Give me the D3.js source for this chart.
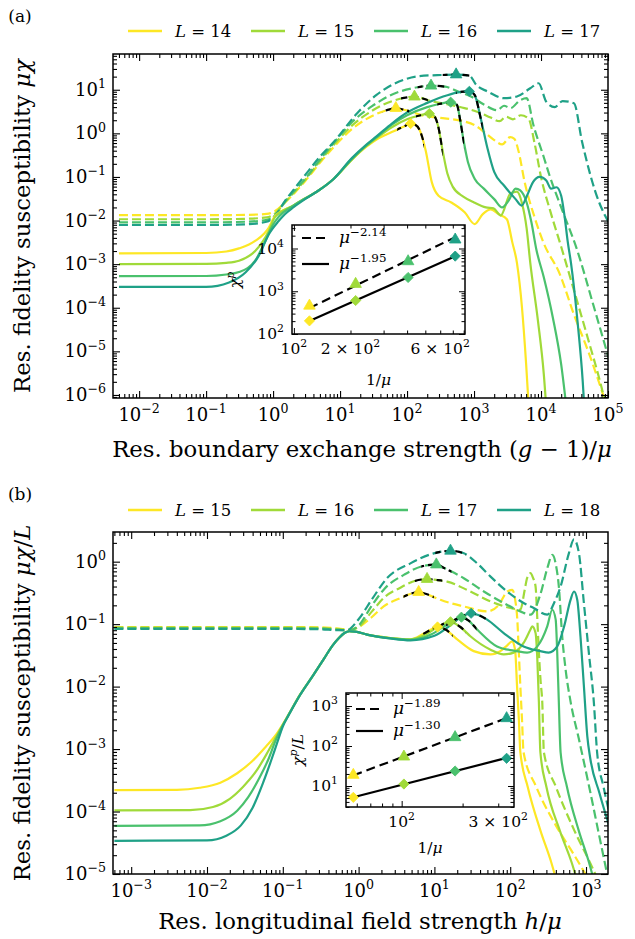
<!DOCTYPE html>
<html><head><meta charset="utf-8">
<script src="https://cdn.jsdelivr.net/npm/d3@7"></script>
<style>
body{margin:0;background:#fff;}
svg text{font-family:"DejaVu Serif","Liberation Serif",serif;fill:#000;}
</style></head>
<body><svg id="fig" width="635" height="939"></svg>
<script>
// ---------- shared ----------
const colorsL = ["#fde725", "#a0da39", "#4ac16d", "#1fa187"];
const legendA = ["14", "15", "16", "17"];
const legendB = ["15", "16", "17", "18"];

// ---------- panel (a): boundary exchange, [x, mu*chi] ----------
const exchDash14 = [[0.005,0.0133],[0.1,0.0133],[0.4,0.0135],[0.8,0.0142],[1.1,0.017],[1.5,0.026],[2,0.04],[3,0.08],[5,0.21],[8,0.48],[15,1.25],[30,2.5],[50,3.4],[68,3.78],[95,3.4],[186,2.5],[365,2.2],[700,1.9],[1020,1.55],[1500,1.0],[1960,0.72],[2630,0.56],[3470,0.82],[4000,0.75],[4600,0.4],[5700,0.076],[8000,0.012],[11000,3e-3],[19000,6e-4],[31000,7e-5],[52000,9e-6],[89000,8e-7],[1.2e5,2e-7]];
const exchDash15 = [[0.005,0.0107],[0.1,0.0107],[0.4,0.011],[0.8,0.0118],[1.1,0.015],[1.5,0.026],[2,0.042],[3,0.085],[5,0.23],[8,0.54],[15,1.5],[30,3.3],[60,5.5],[100,6.7],[129,6.92],[235,5.4],[415,4.6],[720,3.8],[1140,3.1],[1770,2.3],[2400,1.9],[3000,2.4],[3800,2.1],[5000,2.6],[6500,2.2],[8000,0.6],[10000,0.1],[14000,0.015],[20000,2.5e-3],[30000,3e-4],[50000,2e-5],[80000,1.5e-6],[1.2e5,1e-7]];
const exchDash16 = [[0.005,0.0091],[0.1,0.0091],[0.4,0.0094],[0.8,0.0104],[1.1,0.0135],[1.5,0.027],[2,0.045],[3,0.09],[5,0.25],[8,0.6],[15,1.8],[30,4.2],[60,7.8],[120,10.8],[228,12.35],[370,11.8],[580,9.1],[900,7.0],[1430,4.5],[2220,3.4],[2800,4.3],[3500,3.8],[4900,5.8],[6100,6.4],[7700,1.55],[10800,0.31],[13400,0.108],[20000,0.02],[35000,2e-3],[60000,1.2e-4],[1.2e5,3e-6]];
const exchDash17 = [[0.005,0.0079],[0.1,0.0079],[0.4,0.0082],[0.8,0.0094],[1.1,0.0135],[1.5,0.028],[1.9,0.045],[3,0.11],[5,0.29],[8.1,0.64],[18,2.9],[35,7.6],[76,15.4],[150,20.5],[330,21.8],[540,22.3],[855,21],[1080,12.9],[1600,9.1],[2800,6.4],[4370,7.0],[6900,10.8],[9200,14.1],[12000,5.3],[16000,4.0],[21000,5.5],[31000,4.9],[41000,0.64],[65000,0.045],[1.2e5,0.006]];
const exchSolid14 = [[0.005,1.77e-3],[0.1,1.8e-3],[0.2,1.95e-3],[0.31,2.3e-3],[0.54,3.4e-3],[0.86,6.8e-3],[1.06,0.0125],[2,0.022],[3,0.032],[4.6,0.047],[8,0.09],[15,0.25],[25,0.5],[35,0.72],[50,0.95],[70,1.2],[95,1.5],[113,1.68],[130,1.6],[155,1.17],[190,0.4],[234,0.076],[295,0.037],[458,0.026],[724,0.0155],[1020,0.0083],[1350,0.014],[1780,0.018],[2340,0.014],[3090,0.0107],[3720,3.2e-3],[4370,1.07e-3],[5200,1e-4],[6000,5e-6],[6700,3e-7]];
const exchSolid15 = [[0.005,1.0e-3],[0.1,1.01e-3],[0.2,1.07e-3],[0.31,1.2e-3],[0.54,2.0e-3],[0.86,5.7e-3],[1.06,0.0118],[2,0.022],[3,0.032],[4.6,0.047],[8,0.09],[15,0.25],[25,0.52],[35,0.78],[60,1.4],[100,2.1],[160,2.6],[215,2.85],[250,2.6],[290,1.5],[340,0.4],[400,0.12],[480,0.06],[700,0.035],[1000,0.026],[1500,0.02],[1960,0.019],[2500,0.013],[3500,0.042],[4370,0.046],[5200,0.025],[6100,6.6e-3],[6900,1.1e-3],[9000,5e-5],[11000,3e-6],[12500,2e-7]];
const exchSolid16 = [[0.005,5.3e-4],[0.1,5.35e-4],[0.2,5.8e-4],[0.31,6.6e-4],[0.54,1.2e-3],[0.76,3.3e-3],[1.0,8.1e-3],[1.2,0.012],[2,0.022],[3,0.032],[4.6,0.047],[8,0.09],[15,0.26],[25,0.54],[35,0.82],[60,1.6],[100,2.6],[200,4.0],[300,4.7],[448,5.19],[555,4.5],[615,2.2],[690,0.76],[810,0.22],[1020,0.091],[1400,0.054],[2000,0.031],[2630,0.02],[3300,0.029],[4170,0.054],[4900,0.049],[6100,0.026],[7200,9e-3],[8500,2.2e-3],[11000,5e-4],[15000,6e-5],[20000,5e-6],[24000,5e-7]];
const exchSolid17 = [[0.005,3.0e-4],[0.1,3.0e-4],[0.22,3.8e-4],[0.39,6.5e-4],[0.61,1.55e-3],[0.86,4.8e-3],[1.2,9.6e-3],[1.5,0.014],[2,0.02],[3,0.031],[4.6,0.047],[8,0.09],[15,0.27],[25,0.56],[35,0.85],[60,1.7],[100,3.0],[200,5.0],[400,7.5],[600,8.8],[851,9.21],[1020,7.6],[1260,2.2],[1590,0.45],[2000,0.13],[2820,0.063],[4170,0.031],[5130,0.022],[6170,0.037],[7590,0.076],[9550,0.1],[12000,0.083],[14100,0.054],[17000,0.058],[20000,0.037],[22400,0.013],[25100,3.2e-3],[28000,1.07e-3],[35000,5e-5],[42000,2e-6],[46000,2e-7]];
// positions of the maxima along x
const exchTriX = [68, 129, 228, 540];
const exchDiaX = [113, 215, 448, 851];
// inset (a): peak heights vs 1/mu
const exchInvMu = [121, 213, 405, 721];
const exchTriChi = [457, 1475, 5000, 16100];
const exchDiaChi = [203, 607, 2100, 6640];
const exchExponents = [2.14, 1.95];

// ---------- panel (b): longitudinal field, [x, mu*chi/L] ----------
const fieldDash15 = [[6e-4,0.09],[0.05,0.09],[0.3,0.089],[0.55,0.085],[0.75,0.082],[1.0,0.09],[1.5,0.13],[2.14,0.192],[3.55,0.261],[5,0.31],[6.2,0.326],[8,0.3],[9.8,0.271],[12,0.245],[24.4,0.192],[49.7,0.16],[70,0.2],[91,0.33],[106,0.354],[116,0.25],[124,0.118],[130,0.035],[136,0.0102],[143,3e-3],[150,8.9e-4],[220,2.5e-4],[400,6e-5],[700,2e-5],[1100,8e-6],[1400,5e-6]];
const fieldDash16 = [[6e-4,0.088],[0.05,0.088],[0.3,0.087],[0.55,0.083],[0.75,0.08],[1.0,0.09],[1.5,0.16],[2.2,0.27],[3.5,0.38],[5.5,0.49],[8.0,0.526],[10.5,0.51],[14.7,0.48],[29.8,0.333],[55,0.231],[101,0.181],[136,0.17],[155,0.35],[167,0.544],[185,0.654],[200,0.55],[216,0.40],[228,0.118],[239,0.0347],[252,0.012],[265,5.5e-3],[278,8.9e-4],[400,2.5e-4],[700,5e-5],[1200,1.3e-5],[1700,5e-6]];
const fieldDash17 = [[6e-4,0.086],[0.05,0.086],[0.3,0.085],[0.55,0.081],[0.75,0.079],[1.0,0.095],[1.5,0.2],[2.2,0.37],[4,0.62],[7,0.85],[10.6,0.899],[13.2,0.8],[24.4,0.544],[44.9,0.333],[82,0.218],[136,0.16],[185,0.142],[250,0.3],[310,0.8],[359,1.28],[400,0.9],[438,0.40],[485,0.064],[538,0.0188],[628,5.6e-3],[800,1.5e-3],[1100,2.5e-4],[1500,4e-5],[1900,1e-5]];
const fieldDash18 = [[6e-4,0.084],[0.05,0.084],[0.3,0.083],[0.55,0.08],[0.7,0.08],[1.0,0.12],[1.5,0.25],[2.37,0.544],[4.82,0.94],[9.8,1.36],[16.3,1.49],[24.5,1.36],[36.7,0.94],[55,0.577],[91,0.333],[150,0.218],[204,0.181],[308,0.142],[380,0.22],[462,0.40],[594,1.36],[694,2.27],[807,1.36],[937,0.218],[1090,0.0347],[1270,5.5e-3],[1400,8.9e-4],[1700,2.5e-4],[2100,8e-5]];
const fieldSolid15 = [[6e-4,2.2e-4],[4e-3,2.22e-4],[0.008,2.4e-4],[0.015,2.9e-4],[0.025,4.1e-4],[0.04,6.5e-4],[0.06,1.1e-3],[0.08,1.65e-3],[0.1,2.5e-3],[0.12,3.6e-3],[0.17,7.5e-3],[0.25,0.015],[0.35,0.028],[0.45,0.045],[0.55,0.06],[0.65,0.072],[0.75,0.077],[0.9,0.076],[1.29,0.068],[2.62,0.06],[4.82,0.057],[7.5,0.072],[11,0.09],[14,0.082],[20,0.057],[33,0.037],[55,0.0327],[74,0.037],[90,0.045],[106,0.053],[113,0.045],[117,0.035],[123,0.0103],[130,3e-3],[136,8.9e-4],[170,2.5e-4],[250,5e-5],[350,1.5e-5],[450,5e-6]];
const fieldSolid16 = [[6e-4,1.04e-4],[6e-3,1.05e-4],[0.012,1.18e-4],[0.02,1.6e-4],[0.03,2.5e-4],[0.045,4.5e-4],[0.06,8e-4],[0.08,1.5e-3],[0.1,2.45e-3],[0.12,3.6e-3],[0.17,7.5e-3],[0.25,0.015],[0.35,0.028],[0.45,0.045],[0.55,0.06],[0.65,0.072],[0.75,0.077],[0.9,0.076],[1.29,0.068],[2.62,0.06],[4.82,0.057],[8,0.07],[11,0.09],[16.3,0.109],[22,0.09],[29.8,0.064],[55,0.039],[82,0.0327],[111,0.035],[150,0.05],[185,0.082],[195,0.092],[216,0.072],[228,0.027],[239,5.6e-3],[250,8.9e-4],[300,2.5e-4],[450,5e-5],[650,1.5e-5],[850,5e-6]];
const fieldSolid17 = [[6e-4,5.9e-5],[8e-3,6e-5],[0.015,7e-5],[0.025,1.03e-4],[0.035,1.7e-4],[0.05,3.6e-4],[0.065,7e-4],[0.08,1.35e-3],[0.1,2.4e-3],[0.12,3.6e-3],[0.17,7.5e-3],[0.25,0.015],[0.35,0.028],[0.45,0.045],[0.55,0.06],[0.65,0.072],[0.75,0.077],[0.9,0.076],[1.29,0.068],[2.62,0.059],[4.82,0.056],[9,0.068],[14,0.095],[18,0.115],[22.7,0.129],[28,0.115],[36.7,0.082],[67,0.044],[123,0.037],[167,0.035],[228,0.044],[308,0.092],[359,0.17],[398,0.118],[417,0.035],[438,5.6e-3],[462,8.9e-4],[560,2.5e-4],[800,5e-5],[1100,1.5e-5],[1400,5e-6]];
const fieldSolid18 = [[6e-4,3.4e-5],[0.01,3.45e-5],[0.018,4.1e-5],[0.028,6e-5],[0.04,1.15e-4],[0.055,2.9e-4],[0.07,6.5e-4],[0.085,1.3e-3],[0.1,2.3e-3],[0.12,3.5e-3],[0.17,7.4e-3],[0.25,0.015],[0.35,0.028],[0.45,0.045],[0.55,0.06],[0.65,0.072],[0.75,0.077],[0.9,0.076],[1.29,0.068],[2.62,0.059],[4.82,0.055],[10,0.065],[16,0.095],[22,0.128],[30.5,0.149],[38,0.14],[49.6,0.118],[82,0.072],[150,0.044],[250,0.037],[322,0.035],[417,0.044],[514,0.092],[625,0.245],[694,0.333],[766,0.245],[845,0.064],[937,0.0103],[1040,1.6e-3],[1140,7e-4],[1500,2e-4],[2100,5e-5]];
const fieldTriX = [6.2, 8.0, 10.6, 16.3];
const fieldDiaX = [11, 16.3, 22.7, 30.5];
// inset (b): peak heights / L vs 1/mu
const fieldInvMu = [57.7, 102.6, 183.6, 330];
const fieldTriChi = [18.8, 54, 165, 492];
const fieldDiaChi = [5.2, 11.2, 23.7, 49.3];
const fieldExponents = [1.89, 1.30];

// ---------- helpers ----------
const svg = d3.select("#fig");
svg.append("rect").attr("width", 635).attr("height", 939).attr("fill", "#fff");

function rich(sel, parts, fs) {
  let up = false;
  parts.forEach(p => {
    const ts = sel.append("tspan").text(p.t);
    if (p.i) ts.attr("font-style", "italic");
    if (p.sup) {
      ts.attr("font-size", 0.7 * fs);
      if (!up) ts.attr("dy", -0.42 * fs);
    } else if (up) ts.attr("dy", 0.42 * fs);
    up = !!p.sup;
  });
  return sel;
}
const pow10 = v => { const e = Math.round(Math.log10(v)); return [{t: "10"}, {t: e < 0 ? "\u2212" + (-e) : String(e), sup: true}]; };
const timesPow = (k, e) => [{t: k + " \u00d7 10"}, {t: String(e), sup: true}];

function logTicks(domain) {
  const lo = Math.min(...domain), hi = Math.max(...domain);
  const maj = [], min = [];
  for (let e = Math.floor(Math.log10(lo)); e <= Math.ceil(Math.log10(hi)); e++) {
    for (let k = 1; k <= 9; k++) {
      const v = +(k * Math.pow(10, e)).toPrecision(10);
      if (v >= lo * 0.9999 && v <= hi * 1.0001) (k === 1 ? maj : min).push(v);
    }
  }
  return {maj, min};
}

function frame(g, sx, sy, o) {
  const [xa, xb] = sx.range(), [ya, yb] = sy.range();
  const xt = logTicks(sx.domain()), yt = logTicks(sy.domain());
  const sides = [
    [d3.axisBottom, sx, xt, `translate(0,${ya})`],
    [d3.axisTop, sx, xt, `translate(0,${yb})`],
    [d3.axisLeft, sy, yt, `translate(${xa},0)`],
    [d3.axisRight, sy, yt, `translate(${xb},0)`]
  ];
  sides.forEach(([axis, s, t, tr]) => {
    [[t.maj, o.maj], [t.min, o.min]].forEach(([vals, len]) => {
      const gg = g.append("g").attr("transform", tr)
        .call(axis(s).tickValues(vals).tickSizeInner(-len).tickSizeOuter(0).tickFormat(""));
      gg.select(".domain").remove();
      gg.selectAll(".tick text").remove();
      gg.selectAll(".tick line").attr("stroke", "#000").attr("stroke-width", o.tw);
    });
  });
  g.append("rect").attr("x", xa).attr("y", yb).attr("width", xb - xa).attr("height", ya - yb)
    .attr("fill", "none").attr("stroke", "#000").attr("stroke-width", o.fw);
  o.xLabels.forEach(([v, parts]) => {
    rich(g.append("text").attr("x", sx(v)).attr("y", ya + o.xBase).attr("text-anchor", "middle")
      .attr("font-size", o.fs), parts, o.fs);
  });
  o.yLabels.forEach(([v, parts]) => {
    rich(g.append("text").attr("x", xa - o.yPad).attr("y", sy(v) + o.yBase).attr("text-anchor", "end")
      .attr("font-size", o.fs), parts, o.fs);
  });
}

const triSym = d3.symbol().type(d3.symbolTriangle).size(58)();
const diaSym = d3.symbol().type(d3.symbolSquare).size(52)();
function marker(g, kind, x, y, color) {
  g.append("path").attr("d", kind === "tri" ? triSym : diaSym)
    .attr("transform", `translate(${x},${y})` + (kind === "tri" ? "" : " rotate(45)"))
    .attr("fill", color).attr("stroke", color).attr("stroke-width", 0.8);
}

let clipCount = 0;
function clipRect(x0, y0, x1, y1) {
  const id = "clip" + (clipCount++);
  svg.append("clipPath").attr("id", id).append("rect")
    .attr("x", x0).attr("y", y0).attr("width", x1 - x0).attr("height", y1 - y0);
  return `url(#${id})`;
}

function panel(p) {
  const {sx, sy} = p;
  const [xa, xb] = sx.range(), [ya, yb] = sy.range();
  const g = svg.append("g");
  const line = d3.line().x(d => sx(d[0])).y(d => sy(d[1])).curve(d3.curveMonotoneX);
  const plot = g.append("g").attr("clip-path", clipRect(xa, yb, xb, ya));
  p.dashed.forEach((s, i) => plot.append("path").attr("d", line(s)).attr("fill", "none")
    .attr("stroke", colorsL[i]).attr("stroke-width", 2.2).attr("stroke-dasharray", "9,4"));
  p.solid.forEach((s, i) => plot.append("path").attr("d", line(s)).attr("fill", "none")
    .attr("stroke", colorsL[i]).attr("stroke-width", 2.2));
  // black dashed stretch over each maximum
  const span = Math.pow(10, 0.2);
  const overlay = (s, px) => {
    plot.append("g").attr("clip-path", clipRect(sx(px / span), yb, sx(px * span), ya))
      .append("path").attr("d", line(s)).attr("fill", "none")
      .attr("stroke", "#000").attr("stroke-width", 2.2).attr("stroke-dasharray", "7,4");
  };
  p.dashed.forEach((s, i) => overlay(s, p.triX[i]));
  p.solid.forEach((s, i) => overlay(s, p.diaX[i]));
  p.triX.forEach((x, i) => marker(plot, "tri", sx(x), sy(p.triChi[i] / p.invMu[i]), colorsL[i]));
  p.diaX.forEach((x, i) => marker(plot, "dia", sx(x), sy(p.diaChi[i] / p.invMu[i]), colorsL[i]));

  frame(g, sx, sy, {maj: 7, min: 4, tw: 1.1, fw: 1.5, fs: 18, xBase: 23, yPad: 7, yBase: 6,
    xLabels: logTicks(sx.domain()).maj.map(v => [v, pow10(v)]),
    yLabels: logTicks(sy.domain()).maj.map(v => [v, pow10(v)])});

  // panel tag and legend
  g.append("text").attr("x", 20).attr("y", p.tagY + 6).attr("text-anchor", "middle")
    .attr("font-size", 17).text(p.tag);
  p.legend.forEach((L, i) => {
    const x0 = 128 + i * 123;
    g.append("line").attr("x1", x0).attr("x2", x0 + 34).attr("y1", p.legY).attr("y2", p.legY)
      .attr("stroke", colorsL[i]).attr("stroke-width", 2.6);
    rich(g.append("text").attr("x", x0 + 47).attr("y", p.legY + 6).attr("font-size", 16.5),
      [{t: "L", i: true}, {t: " = " + L}], 16.5);
  });

  // inset
  const q = p.inset;
  const ig = svg.append("g");
  const [ia, ib] = q.sx.range(), [iya, iyb] = q.sy.range();
  ig.append("rect").attr("x", ia).attr("y", iyb).attr("width", ib - ia).attr("height", iya - iyb).attr("fill", "#fff");
  const lx = Math.log10;
  // power law with the stated exponent, amplitude from a log-space mean
  const fit = (ys, expo) => {
    const c = d3.mean(ys, (y, i) => lx(y) - expo * lx(p.invMu[i]));
    return d3.extent(p.invMu).map(x => [x, Math.pow(10, c + expo * lx(x))]);
  };
  const iline = d3.line().x(d => q.sx(d[0])).y(d => q.sy(d[1]));
  ig.append("path").attr("d", iline(fit(p.triChi, p.exps[0]))).attr("stroke", "#000")
    .attr("stroke-width", 2.2).attr("stroke-dasharray", "9,5").attr("fill", "none");
  ig.append("path").attr("d", iline(fit(p.diaChi, p.exps[1]))).attr("stroke", "#000")
    .attr("stroke-width", 2.2).attr("fill", "none");
  p.invMu.forEach((m, i) => {
    marker(ig, "tri", q.sx(m), q.sy(p.triChi[i]), colorsL[i]);
    marker(ig, "dia", q.sx(m), q.sy(p.diaChi[i]), colorsL[i]);
  });
  frame(ig, q.sx, q.sy, {maj: 6, min: 3.5, tw: 1.0, fw: 1.5, fs: 15.5, xBase: 20, yPad: 8, yBase: 5,
    xLabels: q.xLabels, yLabels: q.yLabels});
  // inset legend
  [[q.legY[0], "9,5", p.exps[0]], [q.legY[1], null, p.exps[1]]].forEach(([y, dash, e]) => {
    const l = ig.append("line").attr("x1", ia + 10).attr("x2", ia + 37).attr("y1", y).attr("y2", y)
      .attr("stroke", "#000").attr("stroke-width", 2.2);
    if (dash) l.attr("stroke-dasharray", dash);
    rich(ig.append("text").attr("x", ia + 47).attr("y", y + 5).attr("font-size", 17),
      [{t: "\u03bc", i: true}, {t: "\u2212" + e.toFixed(2), sup: true}], 17);
  });
  rich(ig.append("text").attr("transform", `translate(${q.ylabX},${q.ylabY}) rotate(-90)`)
    .attr("text-anchor", "middle").attr("font-size", 15.5), q.ylab, 15.5);
  rich(ig.append("text").attr("x", (ia + ib) / 2).attr("y", q.xlabY).attr("text-anchor", "middle")
    .attr("font-size", 15.5), [{t: "1/"}, {t: "\u03bc", i: true}], 15.5);
  return g;
}

// ---------- scales ----------
const sxA = d3.scaleLog().domain([Math.pow(10, -2.39), 1e5]).range([113, 608]);
const syA = d3.scaleLog().domain([Math.pow(10, -6.07), Math.pow(10, 1.82)]).range([398, 54]);
const sxB = d3.scaleLog().domain([Math.pow(10, -3.24), Math.pow(10, 3.29)]).range([113, 608]);
const syB = d3.scaleLog().domain([1e-5, Math.pow(10, 0.475)]).range([874, 532]);
const sxIA = d3.scaleLog().domain([Math.pow(10, 1.99), Math.pow(10, 2.91)]).range([292, 465]);
const syIA = d3.scaleLog().domain([Math.pow(10, 2.0), Math.pow(10, 4.55)]).range([334, 225]);
const sxIB = d3.scaleLog().domain([Math.pow(10, 1.725), Math.pow(10, 2.555)]).range([346, 514]);
const syIB = d3.scaleLog().domain([Math.pow(10, 0.475), Math.pow(10, 3.325)]).range([807, 693]);

panel({
  sx: sxA, sy: syA, tag: "(a)", tagY: 16, legY: 31, legend: legendA,
  dashed: [exchDash14, exchDash15, exchDash16, exchDash17],
  solid: [exchSolid14, exchSolid15, exchSolid16, exchSolid17],
  triX: exchTriX, diaX: exchDiaX, invMu: exchInvMu, triChi: exchTriChi, diaChi: exchDiaChi,
  exps: exchExponents,
  inset: {sx: sxIA, sy: syIA, legY: [238, 264], ylabX: 240, ylabY: 280, xlabY: 385,
    ylab: [{t: "\u03c7", i: true}, {t: "p", i: true, sup: true}],
    xLabels: [[100, pow10(100)], [200, timesPow(2, 2)], [600, timesPow(6, 2)]],
    yLabels: [[100, pow10(100)], [1000, pow10(1000)], [10000, pow10(10000)]]}
});
panel({
  sx: sxB, sy: syB, tag: "(b)", tagY: 494, legY: 510, legend: legendB,
  dashed: [fieldDash15, fieldDash16, fieldDash17, fieldDash18],
  solid: [fieldSolid15, fieldSolid16, fieldSolid17, fieldSolid18],
  triX: fieldTriX, diaX: fieldDiaX, invMu: fieldInvMu, triChi: fieldTriChi, diaChi: fieldDiaChi,
  exps: fieldExponents,
  inset: {sx: sxIB, sy: syIB, legY: [709, 731], ylabX: 303, ylabY: 750, xlabY: 853,
    ylab: [{t: "\u03c7", i: true}, {t: "p", i: true, sup: true}, {t: "/"}, {t: "L", i: true}],
    xLabels: [[100, pow10(100)], [300, timesPow(3, 2)]],
    yLabels: [[10, pow10(10)], [100, pow10(100)], [1000, pow10(1000)]]}
});

// ---------- axis titles ----------
function title(x, y, rot, parts, fs) {
  const t = svg.append("text").attr("transform", `translate(${x},${y}) rotate(${rot})`)
    .attr("text-anchor", "middle").attr("font-size", fs);
  rich(t, parts, fs);
  return t;
}
// size the titles so the bottom title of panel (a) spans the plot width
const probe = title(0, -50, 0, [{t: "Res. boundary exchange strength ("}, {t: "g", i: true}, {t: " \u2212 1)/"}, {t: "\u03bc", i: true}], 20);
const titleFs = Math.max(17, Math.min(24, 20 * 500 / probe.node().getComputedTextLength()));
probe.remove();
title(362, 457, 0, [{t: "Res. boundary exchange strength ("}, {t: "g", i: true}, {t: " \u2212 1)/"}, {t: "\u03bc", i: true}], titleFs);
title(30, 226, -90, [{t: "Res. fidelity susceptibility "}, {t: "\u03bc\u03c7", i: true}], titleFs);
title(360, 929, 0, [{t: "Res. longitudinal field strength "}, {t: "h", i: true}, {t: "/"}, {t: "\u03bc", i: true}], titleFs);
title(30, 703, -90, [{t: "Res. fidelity susceptibility "}, {t: "\u03bc\u03c7", i: true}, {t: "/"}, {t: "L", i: true}], titleFs);
</script></body></html>
